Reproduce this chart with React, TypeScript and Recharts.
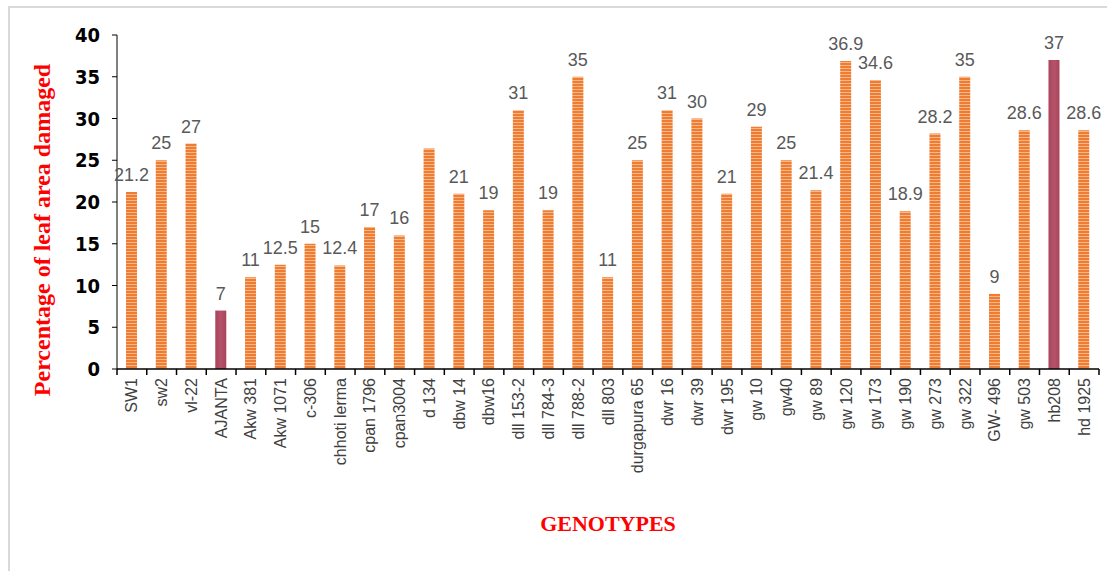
import { Bar, BarChart, Cell, LabelList, XAxis, YAxis } from "recharts";

const genotypes = [
  "SW1", "sw2", "vl-22", "AJANTA", "Akw 381", "Akw 1071", "c-306", "chhoti lerma",
  "cpan 1796", "cpan3004", "d 134", "dbw 14", "dbw16", "dll 153-2", "dll 784-3",
  "dll 788-2", "dll 803", "durgapura 65", "dwr 16", "dwr 39", "dwr 195", "gw 10",
  "gw40", "gw 89", "gw 120", "gw 173", "gw 190", "gw 273", "gw 322", "GW- 496",
  "gw 503", "hb208", "hd 1925",
];

const damage = [
  21.2, 25, 27, 7, 11, 12.5, 15, 12.4, 17, 16, 26.4, 21, 19, 31, 19, 35, 11, 25,
  31, 30, 21, 29, 25, 21.4, 36.9, 34.6, 18.9, 28.2, 35, 9, 28.6, 37, 28.6,
];

// d 134 has no data label in the original
const shownLabels = [
  "21.2", "25", "27", "7", "11", "12.5", "15", "12.4", "17", "16", "", "21", "19",
  "31", "19", "35", "11", "25", "31", "30", "21", "29", "25", "21.4", "36.9",
  "34.6", "18.9", "28.2", "35", "9", "28.6", "37", "28.6",
];

const highlighted = ["AJANTA", "hb208"];

const yTicks = [0, 5, 10, 15, 20, 25, 30, 35, 40];

const rows = genotypes.map((name, i) => ({
  name,
  damage: damage[i],
  label: shownLabels[i],
}));

function GenotypeTick(props: any) {
  const { x, y, payload, index } = props;
  const half = payload?.offset ?? 0;
  const isLast = index === genotypes.length - 1;
  return (
    <g>
      <line x1={x - half} x2={x - half} y1={y - 6} y2={y} stroke="#000" strokeWidth={1.5} />
      {isLast && (
        <line x1={x + half} x2={x + half} y1={y - 6} y2={y} stroke="#000" strokeWidth={1.5} />
      )}
      <text
        x={x}
        y={y + 3}
        transform={`rotate(-90, ${x}, ${y + 3})`}
        textAnchor="end"
        dominantBaseline="central"
        fill="#404040"
        fontSize={16}
        fontFamily="'Liberation Sans', Arial, sans-serif"
      >
        {payload.value}
      </text>
    </g>
  );
}

function YTitle() {
  return (
    <text
      x={42}
      y={230}
      transform="rotate(-90, 42, 230)"
      textAnchor="middle"
      dominantBaseline="central"
      fill="#ff0000"
      fontSize={24}
      fontWeight="bold"
      fontFamily="'Liberation Serif', 'Times New Roman', serif"
    >
      Percentage of leaf area damaged
    </text>
  );
}

export default function App() {
  return (
    <div style={{ position: "absolute", left: 0, top: 0, width: 1107, height: 571, background: "#fff", overflow: "hidden" }}>
      <div
        style={{
          position: "absolute",
          left: 8,
          top: 6,
          width: 1120,
          height: 600,
          border: "2px solid #d9d9d9",
        }}
      />
      <BarChart
        width={1107}
        height={571}
        data={rows}
        margin={{ top: 35, right: 8, bottom: 0, left: 0 }}
        barSize={11}
        style={{ position: "absolute", left: 0, top: 0 }}
      >
        <defs>
          <pattern id="stripeOrange" width="4" height="3" patternUnits="userSpaceOnUse">
            <rect width="4" height="3" fill="#ee7d31" />
            <rect y="2" width="4" height="1" fill="#f8b78a" />
          </pattern>
          <linearGradient id="maroon" x1="0" y1="0" x2="1" y2="0">
            <stop offset="0%" stopColor="#a9445a" />
            <stop offset="50%" stopColor="#b5536a" />
            <stop offset="100%" stopColor="#a9445a" />
          </linearGradient>
        </defs>
        <XAxis
          dataKey="name"
          interval={0}
          height={202}
          tickSize={6}
          tickMargin={0}
          tickLine={false}
          axisLine={{ stroke: "#000", strokeWidth: 1.5 }}
          tick={<GenotypeTick />}
          label={{
            value: "GENOTYPES",
            position: "insideBottom",
            offset: 40,
            fill: "#ff0000",
            fontSize: 22,
            fontWeight: "bold",
            fontFamily: "'Liberation Serif', 'Times New Roman', serif",
          }}
        />
        <YAxis
          width={117}
          domain={[0, 40]}
          ticks={yTicks}
          interval={0}
          tickSize={5}
          tickMargin={12}
          axisLine={{ stroke: "#000", strokeWidth: 1 }}
          tickLine={{ stroke: "#000" }}
          tick={{
            fill: "#000",
            fontSize: 20,
            fontWeight: "bold",
            fontFamily: "'Liberation Sans Narrow', 'Arial Narrow', 'DejaVu Sans Condensed', sans-serif",
          }}
          label={{ content: () => <YTitle /> }}
        />
        <Bar dataKey="damage" isAnimationActive={false}>
          {rows.map((r) => (
            <Cell
              key={r.name}
              fill={highlighted.includes(r.name) ? "url(#maroon)" : "url(#stripeOrange)"}
            />
          ))}
          <LabelList
            dataKey="label"
            position="top"
            offset={11}
            fill="#595959"
            fontSize={18}
            fontFamily="'Liberation Sans', Arial, sans-serif"
          />
        </Bar>
      </BarChart>
    </div>
  );
}
